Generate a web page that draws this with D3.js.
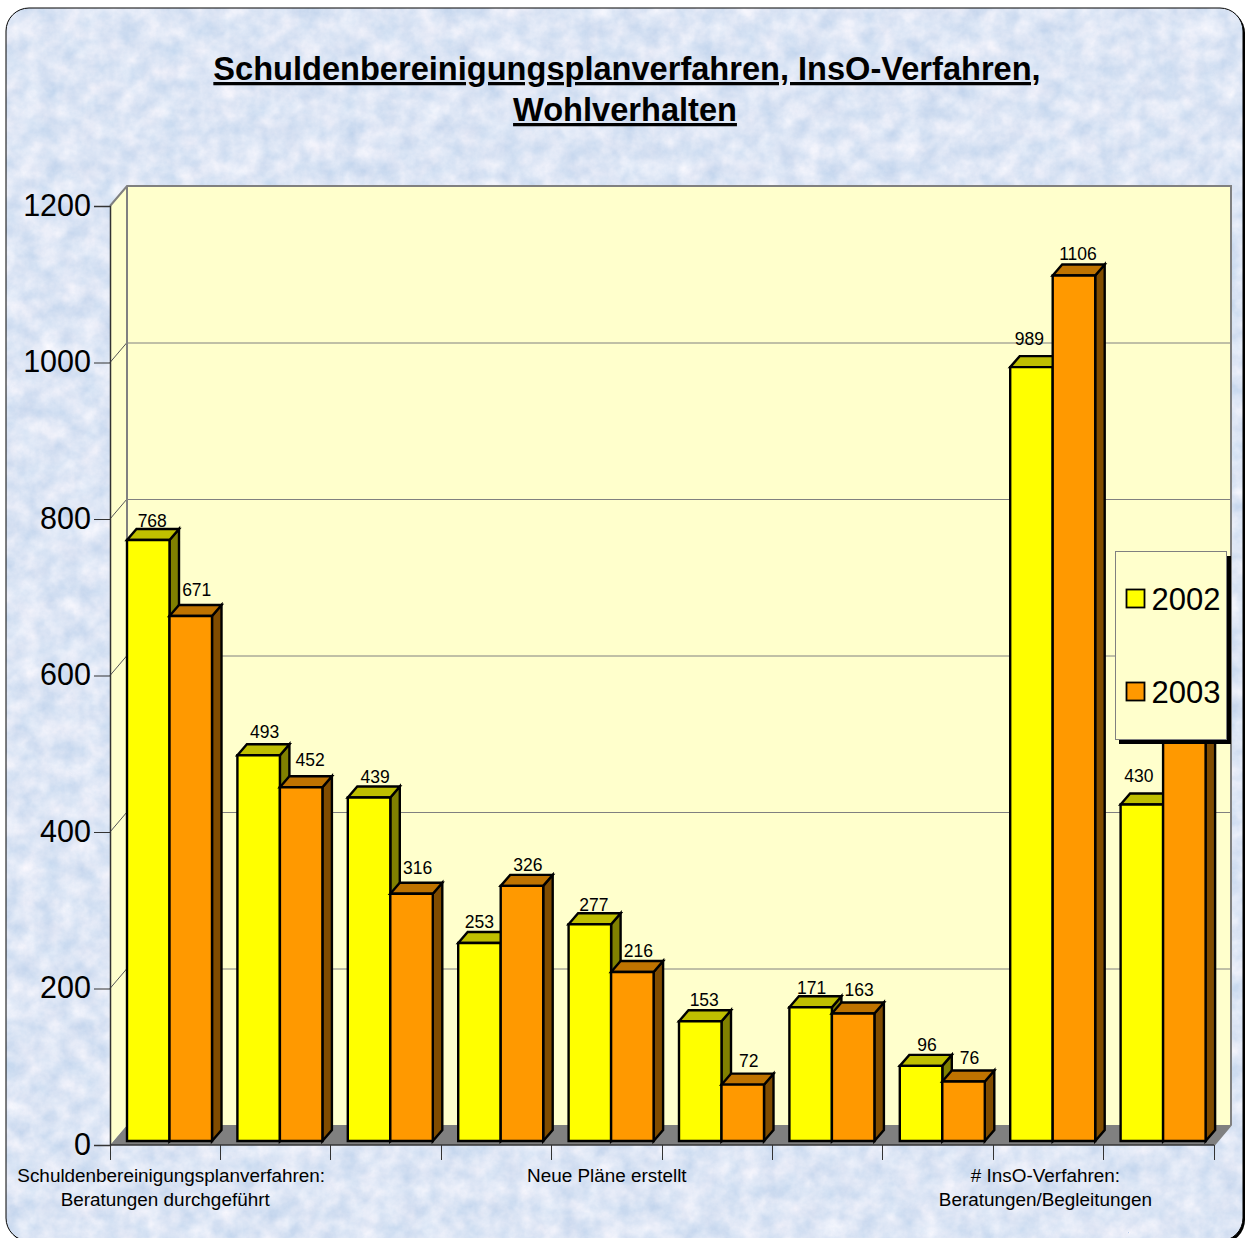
<!DOCTYPE html>
<html><head><meta charset="utf-8">
<style>html,body{margin:0;padding:0;background:#fff}svg{display:block}text{font-family:"Liberation Sans",Arial,sans-serif;fill:#000}</style>
<script src="https://cdn.jsdelivr.net/npm/d3@7/dist/d3.min.js"></script>
</head><body><script>
const categories=["Schuldenbereinigungsplanverfahren:|Beratungen durchgeführt","","","","Neue Pläne erstellt","","","","# InsO-Verfahren:|Beratungen/Begleitungen",""];
const series2002=[768,493,439,253,277,153,171,96,989,430];
const series2003=[671,452,316,326,216,72,163,76,1106,560];
const seriesNames=["2002","2003"];
const yTicks=[0,200,400,600,800,1000,1200];
const titleLines=["Schuldenbereinigungsplanverfahren, InsO-Verfahren,","Wohlverhalten"];

const W=1245,H=1238;
const dx=17,dy=20;            // chart wall depth
const barDx=9.5,barDy=11;     // bar depth
const x0=d3.scaleBand().domain(d3.range(categories.length)).range([110,1214]);
const y=d3.scaleLinear().domain([0,1200]).range([1145,206]);
const barBase=4;
const groupInset=17,groupW=85;
const colors={"2002":{f:"#ffff00",t:"#bfbf00",s:"#808000"},"2003":{f:"#ff9900",t:"#bf7300",s:"#804c00"}};
// hand placement of value labels (the original chart shuffled them to avoid collisions)
const nudge2002=[[-1,1],[1,-3],[1,0],[-5,-1],[-1,1],[-1,-1],[-4,1],[1,-1],[-7,-8],[-8,-9]];
const nudge2003=[[1,-6],[4,-7],[1,-6],[1,-1],[1,-1],[1,-4],[1,-3],[1,-4],[-1,-2],null]; // last label lies behind the legend

const svg=d3.select("body").append("svg").attr("width",W).attr("height",H);
const defs=svg.append("defs");
const flt=defs.append("filter").attr("id","marble").attr("x",0).attr("y",0).attr("width","100%").attr("height","100%").attr("color-interpolation-filters","sRGB");
flt.append("feTurbulence").attr("type","fractalNoise").attr("baseFrequency","0.05").attr("numOctaves",5).attr("seed",11).attr("result","n");
flt.append("feColorMatrix").attr("in","n").attr("type","matrix").attr("values",
 "0.24 0.05 0 0 0.72  0.15 0.05 0 0 0.80  0.07 0.03 0 0 0.91  0 0 0 0 1");
const cardX=6,cardY=8,cardW=1237,cardH=1233,cardR=23;
defs.append("clipPath").attr("id","card").append("rect").attr("x",cardX).attr("y",cardY).attr("width",cardW).attr("height",cardH).attr("rx",cardR);

// card with hard shadow
svg.append("rect").attr("x",cardX+2).attr("y",cardY+2).attr("width",cardW).attr("height",cardH).attr("rx",cardR).attr("fill","#000");
svg.append("g").attr("clip-path","url(#card)").append("rect").attr("x",cardX).attr("y",cardY).attr("width",cardW).attr("height",cardH).attr("fill","#dbe6f5").attr("filter","url(#marble)");
svg.append("rect").attr("x",cardX).attr("y",cardY).attr("width",cardW).attr("height",cardH).attr("rx",cardR).attr("fill","none").attr("stroke","#000").attr("stroke-width",1);

// title
svg.append("g").selectAll("text").data(titleLines).join("text")
 .attr("x",(d,i)=>627-i*2).attr("y",(d,i)=>80+i*41).attr("text-anchor","middle")
 .attr("font-size",32.6).attr("font-weight","bold").attr("text-decoration","underline").text(d=>d);

// walls
const L=x0.range()[0],R=x0.range()[1],yB=y(0),yT=y(1200);
svg.append("path").attr("d",`M${L},${yB}L${L+dx},${yB-dy}L${R+dx},${yB-dy}L${R},${yB}Z`).attr("fill","#808080");
svg.append("path").attr("d",`M${L},${yB}L${L},${yT}L${L+dx},${yT-dy}L${L+dx},${yB-dy}Z`).attr("fill","#ffffcc");
svg.append("rect").attr("x",L+dx).attr("y",yT-dy).attr("width",R-L).attr("height",yB-yT).attr("fill","#ffffcc");
// gridlines on back and side wall
const gridT=yTicks.slice(1,-1);
svg.append("g").selectAll("line").data(gridT).join("line")
 .attr("x1",L+dx).attr("x2",R+dx).attr("y1",d=>y(d)-dy+.5).attr("y2",d=>y(d)-dy+.5).attr("stroke","#808080").attr("stroke-width",1);
svg.append("g").selectAll("line").data(gridT).join("line")
 .attr("x1",L).attr("x2",L+dx).attr("y1",d=>y(d)).attr("y2",d=>y(d)-dy).attr("stroke","#555").attr("stroke-width",1);
svg.append("path").attr("d",`M${L},${yT}L${L+dx},${yT-dy}L${R+dx},${yT-dy}L${R+dx},${yB-dy}L${R},${yB}`).attr("fill","none").attr("stroke","#808080").attr("stroke-width",2);
svg.append("path").attr("d",`M${L+dx},${yT-dy}L${L+dx},${yB-dy}`).attr("stroke","#808080").attr("stroke-width",2);

// axes
const yAxis=d3.axisLeft(y).tickValues(yTicks).tickSize(16).tickPadding(3).tickFormat(d3.format("d"));
const gy=svg.append("g").attr("transform",`translate(${L},0)`).call(yAxis);
gy.selectAll("text").attr("font-size",30.5).attr("dy","0.30em").style("fill","#000");
gy.selectAll("line").attr("stroke","#333");gy.select(".domain").attr("stroke","#333").attr("stroke-width",1.5);

const xTickPos=d3.range(categories.length+1).map(i=>L+i*x0.step());
const gx=svg.append("g");
gx.append("line").attr("x1",L).attr("x2",R).attr("y1",yB).attr("y2",yB).attr("stroke","#333").attr("stroke-width",1.5);
gx.selectAll(".t").data(xTickPos).join("line").attr("class","t")
 .attr("x1",d=>Math.floor(d)+.5).attr("x2",d=>Math.floor(d)+.5).attr("y1",yB).attr("y2",yB+15).attr("stroke","#333");
const labelDx=[[6,0],[0],[-3,-3]];
let li=0;
categories.forEach((c,i)=>{
  if(!c)return;
  const cx=x0(i)+x0.bandwidth()/2;
  const shift=labelDx[li++];
  c.split("|").forEach((ln,j)=>{
    svg.append("text").attr("x",cx+shift[j]).attr("y",1182+j*24).attr("text-anchor","middle").attr("font-size",18.9).text(ln);
  });
});

// bars
const bw=groupW/2;
const barY=v=>y(v)-barBase;
categories.forEach((c,i)=>{
  const g=svg.append("g");
  [[seriesNames[0],series2002[i],0],[seriesNames[1],series2003[i],1]].forEach(([name,v,k])=>{
    const cl=colors[name];
    const xx=x0(i)+groupInset+k*bw,top=barY(v),bot=y(0)-barBase;
    const st={stroke:"#000","stroke-width":2.4,"stroke-linejoin":"miter"};
    const p=(d,f)=>{const e=g.append("path").attr("d",d).attr("fill",f);Object.entries(st).forEach(([a,b])=>e.attr(a,b));};
    p(`M${xx+bw},${top}L${xx+bw+barDx},${top-barDy}L${xx+bw+barDx},${bot-barDy}L${xx+bw},${bot}Z`,cl.s);
    p(`M${xx},${top}L${xx+barDx},${top-barDy}L${xx+bw+barDx},${top-barDy}L${xx+bw},${top}Z`,cl.t);
    p(`M${xx},${top}H${xx+bw}V${bot}H${xx}Z`,cl.f);
  });
});
// value labels
categories.forEach((c,i)=>{
  [[series2002[i],0,nudge2002[i]],[series2003[i],1,nudge2003[i]]].forEach(([v,k,n])=>{
    if(!n)return;
    svg.append("text").attr("x",x0(i)+groupInset+k*bw+bw/2+5+n[0]).attr("y",barY(v)-barDy-3+n[1])
      .attr("text-anchor","middle").attr("font-size",17.5).text(v);
  });
});

// legend
const lg=svg.append("g");
lg.append("rect").attr("x",1119).attr("y",556).attr("width",112).attr("height",188).attr("fill","#000");
lg.append("rect").attr("x",1115.5).attr("y",551.5).attr("width",111).attr("height",188).attr("fill","#ffffcc").attr("stroke","#808080");
seriesNames.forEach((n,i)=>{
  const yy=599+i*93;
  lg.append("rect").attr("x",1126.5).attr("y",yy-9.5).attr("width",18).attr("height",18).attr("fill",colors[n].f).attr("stroke","#000").attr("stroke-width",1.8);
  lg.append("text").attr("x",1151.5).attr("y",yy+11).attr("font-size",31).text(n);
});
</script></body></html>
